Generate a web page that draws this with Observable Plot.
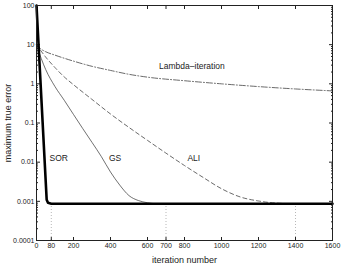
<!DOCTYPE html>
<html><head><meta charset="utf-8">
<script src="https://cdn.jsdelivr.net/npm/d3@7"></script>
<script src="https://cdn.jsdelivr.net/npm/@observablehq/plot@0.6"></script>
<style>body{margin:0;background:#fff}#c{width:343px;height:270px}</style>
</head><body><div id="c"></div>
<script>
const sorIter = [0, 55, 62, 80, 1600];
const sorErr  = [100, 0.0011, 0.00092, 0.00087, 0.00087];
const gsIter = [0, 25, 50, 100, 150, 200, 250, 300, 350, 400, 450, 500, 550, 600, 650, 1600];
const gsErr  = [10, 4.5, 2.3, 0.85, 0.38, 0.165, 0.072, 0.032, 0.014, 0.0056, 0.0026, 0.0014, 0.00105, 0.00092, 0.00087, 0.00087];
const aliIter = [0, 50, 100, 150, 200, 300, 400, 500, 600, 700, 800, 900, 1000, 1100, 1200, 1300, 1400, 1600];
const aliErr  = [10, 4.8, 2.6, 1.5, 0.95, 0.4, 0.17, 0.077, 0.036, 0.017, 0.0082, 0.0041, 0.0021, 0.0013, 0.00102, 0.0009, 0.00087, 0.00087];
const lamIter = [0, 20, 50, 100, 200, 300, 400, 500, 600, 800, 1000, 1200, 1400, 1600];
const lamErr  = [10, 8, 6.6, 5.4, 3.8, 2.8, 2.2, 1.75, 1.48, 1.2, 1.0, 0.85, 0.74, 0.66];
const xTicks = [0, 80, 200, 400, 600, 700, 800, 1000, 1200, 1400, 1600];
const yTicks = [0.0001, 0.001, 0.01, 0.1, 1, 10, 100];
const yTickLabels = ["0.0001", "0.001", "0.01", "0.1", "1", "10", "100"];
const convIter = [80, 700, 1400];
const convErr = 0.00087;
const labels = [
  {name: "Lambda\u2013iteration", x: 840, y: 2.75, bold: false},
  {name: "SOR", x: 120, y: 0.0125, bold: true},
  {name: "GS", x: 425, y: 0.0125, bold: false},
  {name: "ALI", x: 850, y: 0.0125, bold: false}
];

const toRows = (xs, ys) => xs.map((x, i) => ({x, y: ys[i]}));
const minor = [];
for (let e = -4; e < 2; e++) for (let m = 2; m <= 9; m++) minor.push(m * Math.pow(10, e));

const chart = Plot.plot({
  width: 343, height: 270,
  marginLeft: 36, marginRight: 11, marginTop: 5, marginBottom: 30,
  style: {fontFamily: "Liberation Sans, Arial, sans-serif", fontSize: "7px", color: "#222", background: "#fff"},
  x: {domain: [0, 1600]},
  y: {type: "log", domain: [0.0001, 100]},
  marks: [
    Plot.ruleX(convIter, {x: d => d, y1: 0.0001, y2: convErr, stroke: "#999", strokeWidth: 0.7, strokeDasharray: "1,2"}),
    Plot.axisX({ticks: xTicks, tickSize: -3, tickFormat: d => String(d), tickPadding: 6, label: null}),
    Plot.axisX({anchor: "top", ticks: xTicks, tickSize: -3, text: null, label: null}),
    Plot.axisY({ticks: yTicks, tickSize: -4, tickFormat: d => yTickLabels[yTicks.indexOf(d)], tickPadding: 6, label: null}),
    Plot.axisY({ticks: minor, tickSize: -2, text: null, label: null}),
    Plot.axisY({anchor: "right", ticks: yTicks, tickSize: -4, text: null, label: null}),
    Plot.axisY({anchor: "right", ticks: minor, tickSize: -2, text: null, label: null}),
    Plot.line(toRows(lamIter, lamErr), {x: "x", y: "y", stroke: "#444", strokeWidth: 0.8, strokeDasharray: "6,2,1,2", curve: "monotone-x"}),
    Plot.line(toRows(aliIter, aliErr), {x: "x", y: "y", stroke: "#444", strokeWidth: 0.8, strokeDasharray: "4,3", curve: "monotone-x"}),
    Plot.line(toRows(gsIter, gsErr), {x: "x", y: "y", stroke: "#333", strokeWidth: 0.7, curve: "monotone-x"}),
    Plot.line(toRows(sorIter, sorErr), {x: "x", y: "y", stroke: "#000", strokeWidth: 2.6, strokeLinejoin: "round"}),
    Plot.frame({stroke: "#222", strokeWidth: 1}),
    Plot.text(labels, {x: "x", y: "y", text: "name", fontSize: 8.5, fill: "#222", fontWeight: d => d.bold ? "bold" : "normal"}),
    Plot.text(["iteration number"], {frameAnchor: "bottom", dy: 22, fontSize: 9, fill: "#222"}),
    Plot.text(["maximum true error"], {frameAnchor: "left", textAnchor: "middle", dx: -28, rotate: -90, fontSize: 9, fill: "#222"})
  ]
});
document.getElementById("c").appendChild(chart);
</script>
</body></html>
